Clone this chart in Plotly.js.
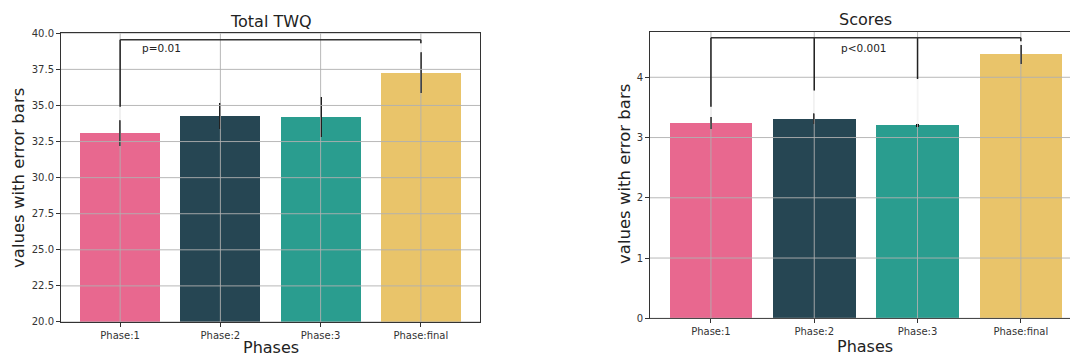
<!DOCTYPE html>
<html>
<head>
<meta charset="utf-8">
<script src="https://cdn.plot.ly/plotly-3.0.1.min.js"></script>
<style>
  html, body { margin: 0; padding: 0; background: #fff; }
  #chart { width: 1070px; height: 358px; }
</style>
</head>
<body>
<div id="chart"></div>
<script>
// Categories and colours shared by both panels
const categories = ['Phase:1', 'Phase:2', 'Phase:3', 'Phase:final'];
const barColors = ['#e8688f', '#264653', '#2a9d8f', '#e9c46a'];

// Total TWQ: means and error half-widths
const twqMeans = [33.07, 34.28, 34.19, 37.26];
const twqErrors = [0.90, 0.89, 1.37, 1.42];
const twqTicks = [20.0, 22.5, 25.0, 27.5, 30.0, 32.5, 35.0, 37.5, 40.0];
const twqRange = [20, 40];
// significance bracket
const twqBracketLevel = 39.56;
const twqBracketLegs = [0, 3];
const twqBracketLegEnds = [34.91, 39.31];
const twqPText = 'p=0.01';
const twqPPos = [0.2, 38.98];

// Scores: means and error half-widths
const scoreMeans = [3.24, 3.31, 3.20, 4.38];
const scoreErrors = [0.10, 0.09, 0.03, 0.16];
const scoreTicks = [0, 1, 2, 3, 4];
const scoreRange = [0, 4.757];
const scoreBracketLevel = 4.657;
const scoreBracketLegs = [0, 1, 2, 3];
const scoreBracketLegEnds = [3.51, 3.78, 3.97, 4.60];
const scorePText = 'p<0.001';
const scorePPos = [1.48, 4.49];

const idx = categories.map((_, i) => i);
const FONT = 'DejaVu Sans, Liberation Sans, sans-serif';
const GRID = '#b0b0b0';
const INK = '#222';

function barTrace(means, errs, xa, ya) {
  return {
    type: 'bar', x: idx, y: means, width: 0.8,
    marker: { color: barColors, line: { width: 0 } },
    error_y: { type: 'data', array: errs, visible: true, color: '#111', thickness: 2.2, width: 0 },
    xaxis: xa, yaxis: ya, hoverinfo: 'skip', showlegend: false
  };
}

// grid drawn over the bars, then the bracket on top
function overlayShapes(xr, yr, xref, yref, ticks, means, errs, level, legs, legEnds) {
  const s = [];
  ticks.forEach(t => s.push({ type: 'line', xref, yref, x0: xr[0], x1: xr[1], y0: t, y1: t,
    line: { color: GRID, width: 0.9 }, layer: 'above' }));
  idx.forEach(i => s.push({ type: 'line', xref, yref, x0: i, x1: i, y0: yr[0], y1: yr[1],
    line: { color: GRID, width: 0.9 }, layer: 'above' }));
  legs.forEach((c, k) => {
    // light gap between leg end and the error bar
    s.push({ type: 'line', xref, yref, x0: c, x1: c, y0: legEnds[k], y1: means[c] + errs[c],
      line: { color: '#f4f4f4', width: 1.6 }, layer: 'above' });
    s.push({ type: 'line', xref, yref, x0: c, x1: c, y0: level, y1: legEnds[k],
      line: { color: INK, width: 1.5 }, layer: 'above' });
  });
  s.push({ type: 'line', xref, yref, x0: legs[0], x1: legs[legs.length - 1], y0: level, y1: level,
    line: { color: '#333', width: 1.5 }, layer: 'above' });
  return s;
}

const leftX = [-0.59, 3.59];
const rightX = [-0.59, 3.476];

const data = [
  barTrace(twqMeans, twqErrors, 'x', 'y'),
  barTrace(scoreMeans, scoreErrors, 'x2', 'y2')
];

const axisCommon = {
  showgrid: false, zeroline: false, showline: true, linecolor: '#333', linewidth: 1,
  ticks: 'outside', ticklen: 4, tickwidth: 1, tickcolor: '#333',
  tickfont: { family: FONT, size: 10, color: '#333' }, fixedrange: true
};

function label(text, x, y, size, angle) {
  return { text, xref: 'paper', yref: 'paper', x, y, xanchor: 'center', yanchor: 'middle',
    textangle: angle || 0, showarrow: false, font: { family: FONT, size, color: INK } };
}

const layout = {
  width: 1070, height: 358,
  margin: { l: 0, r: 0, t: 0, b: 0 },
  paper_bgcolor: '#fff', plot_bgcolor: '#fff',
  bargap: 0,
  xaxis: Object.assign({}, axisCommon, {
    domain: [61 / 1070, 480 / 1070], range: leftX, tickvals: idx, ticktext: categories,
    mirror: true, anchor: 'y'
  }),
  yaxis: Object.assign({}, axisCommon, {
    domain: [0.1006, 0.907], range: twqRange, tickvals: twqTicks,
    ticktext: twqTicks.map(v => v.toFixed(1)), mirror: true, anchor: 'x'
  }),
  xaxis2: Object.assign({}, axisCommon, {
    domain: [650 / 1070, 1], range: rightX, tickvals: idx, ticktext: categories,
    mirror: true, anchor: 'y2'
  }),
  yaxis2: Object.assign({}, axisCommon, {
    domain: [0.1109, 0.9115], range: scoreRange, tickvals: scoreTicks,
    ticktext: scoreTicks.map(String), anchor: 'x2'
  }),
  shapes: [].concat(
    overlayShapes(leftX, twqRange, 'x', 'y', twqTicks, twqMeans, twqErrors,
      twqBracketLevel, twqBracketLegs, twqBracketLegEnds),
    overlayShapes(rightX, scoreRange, 'x2', 'y2', scoreTicks, scoreMeans, scoreErrors,
      scoreBracketLevel, scoreBracketLegs, scoreBracketLegEnds)
  ),
  annotations: [
    label('Total TWQ', 270.5 / 1070, 1 - 21.7 / 358, 16),
    label('Scores', 865.7 / 1070, 1 - 19 / 358, 16),
    label('Phases', 270.5 / 1070, 1 - 347.5 / 358, 16),
    label('Phases', 865 / 1070, 1 - 346.5 / 358, 16),
    label('values with error bars', 18.3 / 1070, 1 - 177.7 / 358, 16.5, -90),
    label('values with error bars', 624 / 1070, 1 - 174 / 358, 16.5, -90),
    { text: twqPText, xref: 'x', yref: 'y', x: twqPPos[0], y: twqPPos[1], xanchor: 'left', yanchor: 'middle',
      showarrow: false, font: { family: FONT, size: 10.5, color: INK } },
    { text: scorePText, xref: 'x2', yref: 'y2', x: scorePPos[0], y: scorePPos[1], xanchor: 'center', yanchor: 'middle',
      showarrow: false, font: { family: FONT, size: 10.5, color: INK } }
  ]
};

Plotly.newPlot('chart', data, layout, { staticPlot: true, displayModeBar: false });
</script>
</body>
</html>
